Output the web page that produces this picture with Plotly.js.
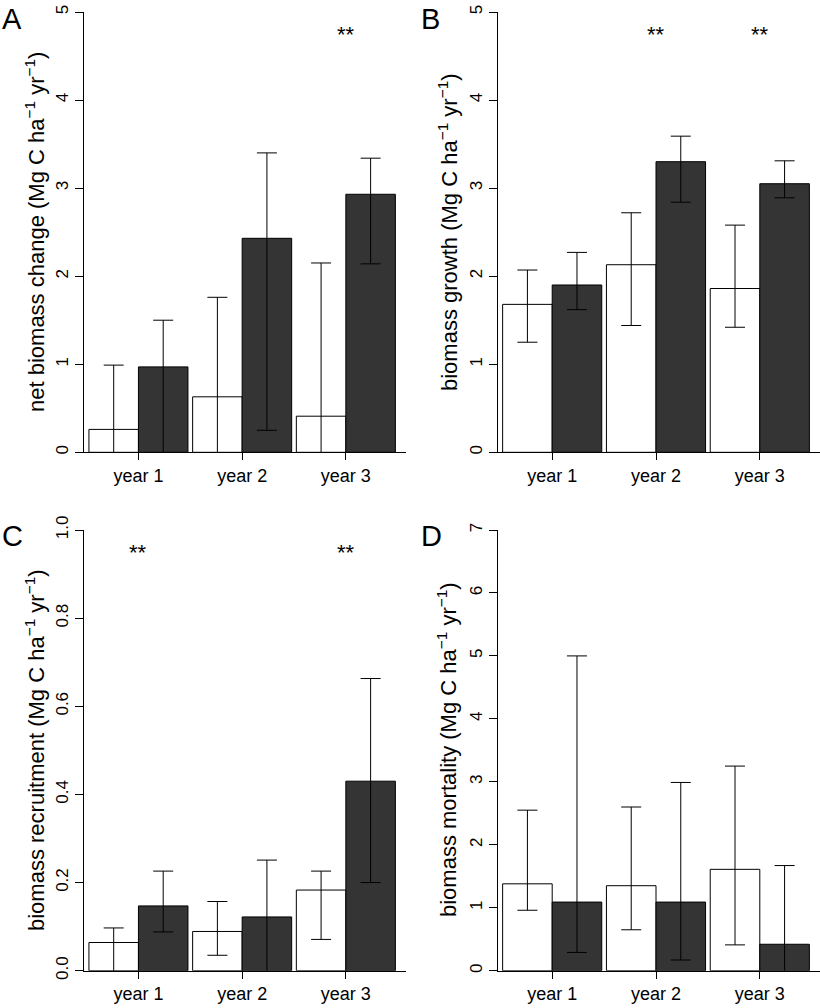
<!DOCTYPE html>
<html>
<head>
<meta charset="utf-8">
<script src="https://cdn.plot.ly/plotly-3.0.1.min.js"></script>
<style>
  html, body { margin: 0; padding: 0; background: #ffffff; }
  #chart { width: 820px; height: 1008px; }
</style>
</head>
<body>
<div id="chart"></div>
<script>
// ---------- data ----------
const categories = ['year 1', 'year 2', 'year 3'];

// Panel A: net biomass change
const netCtrlMean  = [0.26, 0.63, 0.41];
const netCtrlLower = [-0.47, -0.50, -1.33];
const netCtrlUpper = [0.99, 1.76, 2.15];
const netTrtMean   = [0.97, 2.43, 2.93];
const netTrtLower  = [-0.10, 0.25, 2.14];
const netTrtUpper  = [1.50, 3.40, 3.34];

// Panel B: biomass growth
const growCtrlMean  = [1.68, 2.13, 1.86];
const growCtrlLower = [1.25, 1.44, 1.42];
const growCtrlUpper = [2.07, 2.72, 2.58];
const growTrtMean   = [1.90, 3.30, 3.05];
const growTrtLower  = [1.62, 2.84, 2.89];
const growTrtUpper  = [2.27, 3.59, 3.31];

// Panel C: biomass recruitment
const recCtrlMean  = [0.064, 0.089, 0.183];
const recCtrlLower = [-0.02, 0.035, 0.071];
const recCtrlUpper = [0.097, 0.157, 0.226];
const recTrtMean   = [0.147, 0.122, 0.430];
const recTrtLower  = [0.088, -0.02, 0.200];
const recTrtUpper  = [0.226, 0.251, 0.663];

// Panel D: biomass mortality
const morCtrlMean  = [1.38, 1.35, 1.61];
const morCtrlLower = [0.96, 0.65, 0.41];
const morCtrlUpper = [2.55, 2.60, 3.25];
const morTrtMean   = [1.09, 1.09, 0.42];
const morTrtLower  = [0.29, 0.17, -0.50];
const morTrtUpper  = [5.00, 2.99, 1.67];

// significance markers
const sigA = ['year 3'];
const sigB = ['year 2', 'year 3'];
const sigC = ['year 1', 'year 3'];

const panelLetters = ['A', 'B', 'C', 'D'];
const yTitles = [
  'net biomass change (Mg C ha<sup>−1</sup> yr<sup>−1</sup>)',
  'biomass growth (Mg C ha<sup>−1</sup> yr<sup>−1</sup>)',
  'biomass recruitment (Mg C ha<sup>−1</sup> yr<sup>−1</sup>)',
  'biomass mortality (Mg C ha<sup>−1</sup> yr<sup>−1</sup>)'
];
const yTicksAB = [0, 1, 2, 3, 4, 5];
const yTicksC = [0, 0.2, 0.4, 0.6, 0.8, 1.0];
const yTicksD = [0, 1, 2, 3, 4, 5, 6, 7];

// ---------- build ----------
const W = 820, H = 1008;
const FONT = 'Liberation Sans, Arial, Helvetica, sans-serif';
const px = x => x / W;
const py = y => 1 - y / H;

function barTrace(mean, lower, upper, fill, xa, ya, name) {
  return {
    type: 'bar', name: name, x: categories, y: mean,
    xaxis: xa, yaxis: ya,
    marker: { color: fill, line: { color: '#000000', width: 1 } },
    error_y: {
      type: 'data', symmetric: false,
      array: upper.map((u, i) => u - mean[i]),
      arrayminus: lower.map((l, i) => mean[i] - l),
      color: '#000000', thickness: 1, width: 10
    },
    showlegend: false, hoverinfo: 'skip'
  };
}

const WHITE = '#ffffff', DARK = '#343434';
const data = [
  barTrace(netCtrlMean, netCtrlLower, netCtrlUpper, WHITE, 'x', 'y', 'control'),
  barTrace(netTrtMean, netTrtLower, netTrtUpper, DARK, 'x', 'y', 'treatment'),
  barTrace(growCtrlMean, growCtrlLower, growCtrlUpper, WHITE, 'x2', 'y2', 'control'),
  barTrace(growTrtMean, growTrtLower, growTrtUpper, DARK, 'x2', 'y2', 'treatment'),
  barTrace(recCtrlMean, recCtrlLower, recCtrlUpper, WHITE, 'x3', 'y3', 'control'),
  barTrace(recTrtMean, recTrtLower, recTrtUpper, DARK, 'x3', 'y3', 'treatment'),
  barTrace(morCtrlMean, morCtrlLower, morCtrlUpper, WHITE, 'x4', 'y4', 'control'),
  barTrace(morTrtMean, morTrtLower, morTrtUpper, DARK, 'x4', 'y4', 'treatment')
];

const leftDom = [px(84), px(406)];
const rightDom = [px(497.7), px(820)];
const topDom = [py(452.3), py(12)];
const botDom = [py(970.7), py(530)];

function xAxis(dom, anchor) {
  return {
    domain: dom, anchor: anchor, type: 'category',
    range: [-0.525, 2.58],
    showline: true, linecolor: '#000000', linewidth: 1,
    ticks: 'outside', ticklen: 7, tickcolor: '#000000', tickwidth: 1,
    tickfont: { family: FONT, size: 18, color: '#000000' },
    showgrid: false, zeroline: false, fixedrange: true
  };
}
function yAxis(dom, anchor, range, ticks, fmt) {
  return {
    domain: dom, anchor: anchor, range: range,
    tickmode: 'array', tickvals: ticks,
    ticktext: ticks.map(v => fmt ? v.toFixed(1) : String(v)),
    showline: true, linecolor: '#000000', linewidth: 1,
    ticks: 'outside', ticklen: 8, tickcolor: '#000000', tickwidth: 1,
    tickangle: -90,
    tickfont: { family: FONT, size: 17, color: '#000000' },
    showgrid: false, zeroline: false, fixedrange: true
  };
}

const annotations = [];
// panel letters
const letterPos = [[0, 1], [419, 1], [0, 518], [419, 518]];
panelLetters.forEach((l, i) => {
  annotations.push({
    text: l, xref: 'paper', yref: 'paper',
    x: px(letterPos[i][0]), y: py(letterPos[i][1]),
    xanchor: 'left', yanchor: 'top', showarrow: false,
    font: { family: FONT, size: 29, color: '#000000' }
  });
});
// y titles
const titlePos = [[35, 232], [448, 232], [35, 750], [447, 750]];
yTitles.forEach((t, i) => {
  annotations.push({
    text: t, xref: 'paper', yref: 'paper',
    x: px(titlePos[i][0]), y: py(titlePos[i][1]),
    xanchor: 'center', yanchor: 'middle', textangle: -90, showarrow: false,
    font: { family: FONT, size: 22, color: '#000000' }
  });
});
// significance stars
function stars(list, xa, ya, yv) {
  list.forEach(c => annotations.push({
    text: '**', xref: xa, yref: ya, x: c, y: yv,
    xanchor: 'center', yanchor: 'middle', showarrow: false,
    font: { family: FONT, size: 22, color: '#000000' }
  }));
}
stars(sigA, 'x', 'y', 4.74);
stars(sigB, 'x2', 'y2', 4.74);
stars(sigC, 'x3', 'y3', 0.948);

const layout = {
  width: W, height: H,
  margin: { l: 0, r: 0, t: 0, b: 0 },
  paper_bgcolor: '#ffffff', plot_bgcolor: '#ffffff',
  barmode: 'group', bargap: 0.045, bargroupgap: 0,
  font: { family: FONT, color: '#000000' },
  showlegend: false,
  xaxis: xAxis(leftDom, 'y'),
  yaxis: yAxis(topDom, 'x', [0, 5], yTicksAB, false),
  xaxis2: xAxis(rightDom, 'y2'),
  yaxis2: yAxis(topDom, 'x2', [0, 5], yTicksAB, false),
  xaxis3: xAxis(leftDom, 'y3'),
  yaxis3: yAxis(botDom, 'x3', [0, 1], yTicksC, true),
  xaxis4: xAxis(rightDom, 'y4'),
  yaxis4: yAxis(botDom, 'x4', [0, 7], yTicksD, false),
  annotations: annotations
};

Plotly.newPlot('chart', data, layout, { staticPlot: true, displayModeBar: false });
</script>
</body>
</html>
